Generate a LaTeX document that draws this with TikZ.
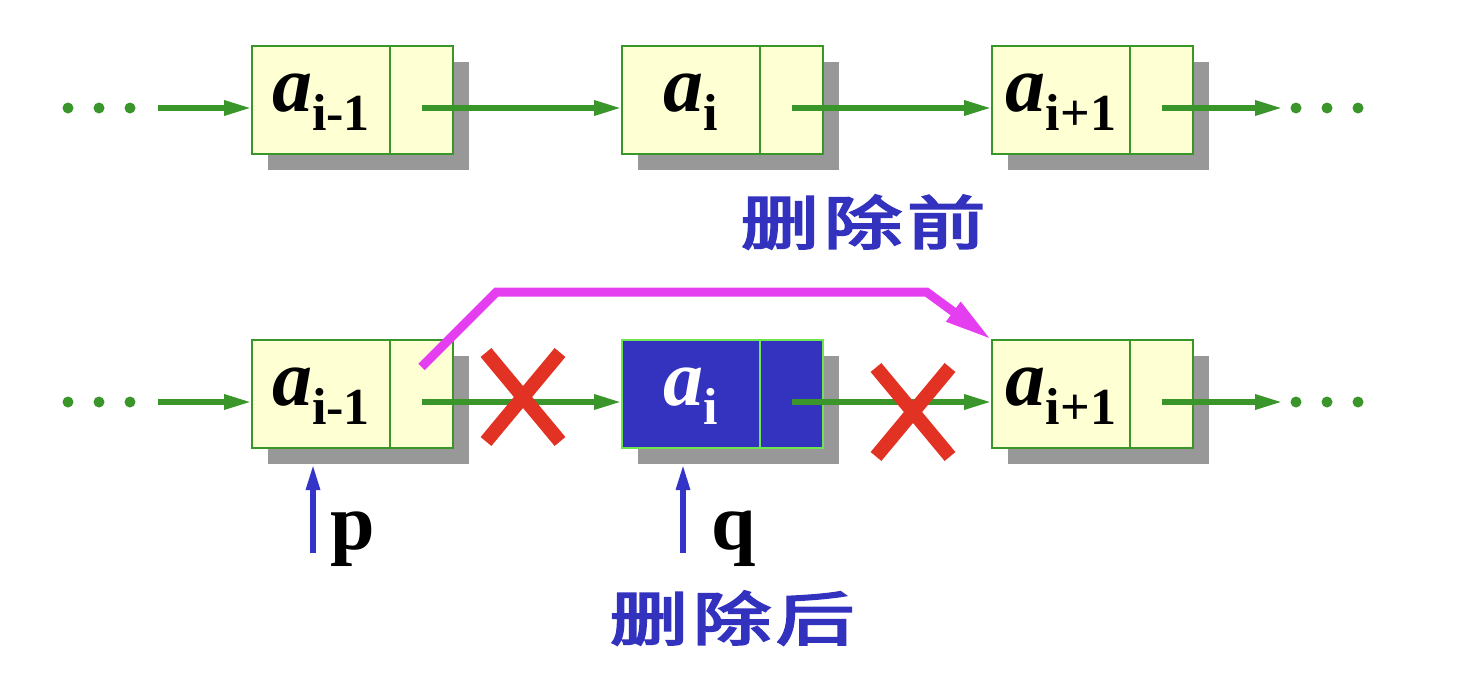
\documentclass[tikz,border=0pt]{standalone}
\usepackage{fontspec}
\setmainfont{Liberation Serif}
\newfontfamily\cjk{Noto Sans CJK SC}[FakeBold=3.5]
\usepackage{tikz}
\usetikzlibrary{arrows.meta, positioning, shadows, shapes.misc}

\definecolor{linkgreen}{RGB}{58,150,42}
\definecolor{cellyellow}{RGB}{255,255,212}
\definecolor{shadowgray}{RGB}{152,152,152}
\definecolor{delblue}{RGB}{51,51,192}
\definecolor{litegreen}{RGB}{110,230,80}
\definecolor{bypassmag}{RGB}{228,62,240}
\definecolor{cutred}{RGB}{226,50,36}
\definecolor{ptrblue}{RGB}{52,52,200}
\definecolor{capblue}{RGB}{50,50,190}

\newcommand{\elem}[1]{{\fontsize{40}{40}\selectfont\bfseries\itshape a}\raisebox{-9.5pt}{\fontsize{26}{26}\selectfont\bfseries #1}}
\newcommand{\stage}[3]{\scalebox{1.35}[1]{#1\hspace{1.8pt}#2\hspace{1.8pt}#3}}

\begin{document}
\begin{tikzpicture}[x=0.5pt, y=-0.5pt,
    cell/.style={draw=linkgreen, line width=1pt, fill=cellyellow, minimum height=54pt,
        inner sep=0pt, outer sep=0pt, text height=20pt, text depth=9pt,
        drop shadow={shadow xshift=8pt, shadow yshift=-8pt, fill=shadowgray, opacity=1}},
    datacell/.style={cell, minimum width=69pt},
    linkcell/.style={cell, minimum width=31.5pt},
    link/.style={draw=linkgreen, line width=3pt, -{Triangle[length=14pt, width=7pt]}},
    bypass/.style={draw=bypassmag, line width=4.5pt, -{Triangle[length=24pt, width=11pt]}},
    ptr/.style={draw=ptrblue, line width=2.8pt, -{Triangle[length=13pt, width=6.5pt]}},
    cutmark/.style={cross out, draw=cutred, line width=7pt, minimum width=30pt,
        minimum height=37.5pt, inner sep=0pt},
    ptrlabel/.style={font=\fontsize{40}{40}\selectfont\bfseries, inner sep=0pt, anchor=base},
    stagelabel/.style={text=capblue, font=\cjk\fontsize{29}{29}\selectfont, inner sep=0pt}]
    \useasboundingbox (0,0) rectangle (1469,680);

    % before deletion
    \node[datacell] (t1) at (321,100) {\elem{i-1}};
    \node[linkcell, right=0pt of t1] (t1n) {};
    \node[datacell] (t2) at (691,100) {\elem{i}};
    \node[linkcell, right=0pt of t2] (t2n) {};
    \node[datacell] (t3) at (1061,100) {\elem{i+1}};
    \node[linkcell, right=0pt of t3] (t3n) {};

    \foreach \x in {68,99,130,1296,1327,1358}
        \fill[linkgreen] (\x,108) circle (5.5);
    \coordinate (tin) at (158,108);
    \coordinate (tout) at (1283,108);
    \draw[link] (tin) -- ([yshift=-4pt]t1.west);
    \draw[link] ([yshift=-4pt]t1n.center) -- ([yshift=-4pt]t2.west);
    \draw[link] ([yshift=-4pt]t2n.center) -- ([yshift=-4pt]t3.west);
    \draw[link] ([yshift=-4pt]t3n.center) -- (tout);

    \node[stagelabel] (before) at (863,222) {\stage{删}{除}{前}};

    % after deletion
    \node[datacell] (b1) at (321,394) {\elem{i-1}};
    \node[linkcell, right=0pt of b1] (b1n) {};
    \node[datacell, fill=delblue, draw=litegreen, text=white] (b2) at (691,394) {\elem{i}};
    \node[linkcell, fill=delblue, draw=litegreen, right=0pt of b2] (b2n) {};
    \node[datacell] (b3) at (1061,394) {\elem{i+1}};
    \node[linkcell, right=0pt of b3] (b3n) {};

    \foreach \x in {68,99,130,1296,1327,1358}
        \fill[linkgreen] (\x,402) circle (5.5);
    \coordinate (bin) at (158,402);
    \coordinate (bout) at (1283,402);
    \draw[link] (bin) -- ([yshift=-4pt]b1.west);
    \draw[link] ([yshift=-4pt]b1n.center) -- ([yshift=-4pt]b2.west);
    \draw[link] ([yshift=-4pt]b2n.center) -- ([yshift=-4pt]b3.west);
    \draw[link] ([yshift=-4pt]b3n.center) -- (bout);

    \node[cutmark] (cut1) at (523,397) {};
    \node[cutmark] (cut2) at (913,412) {};

    \draw[bypass] ([yshift=13.5pt]b1n.center) -- ++(75,-75) -- ++(430,0) -- (b3.north west);

    % pointers p and q
    \coordinate (b1s) at ([yshift=-8pt]b1.south);
    \coordinate (pfoot) at (313,553);
    \coordinate (qfoot) at (683,553);
    \draw[ptr] (pfoot) -- (pfoot |- b1s);
    \draw[ptr] (qfoot) -- (qfoot |- b1s);
    \node[ptrlabel] (plab) at (353,549) {p};
    \node[ptrlabel] (qlab) at (734,549) {q};

    \node[stagelabel] (after) at (732,618) {\stage{删}{除}{后}};
\end{tikzpicture}
\end{document}
